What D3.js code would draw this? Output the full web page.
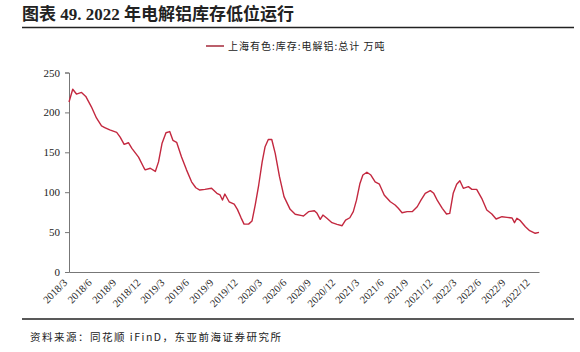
<!DOCTYPE html>
<html>
<head>
<meta charset="utf-8">
<script src="https://cdn.jsdelivr.net/npm/d3@7"></script>
<style>
  body { margin: 0; background: #fff; }
  svg text { fill: #222; }
</style>
</head>
<body>
<div id="chart"></div>
<script>
// weekly inventory, 万吨
const dates = [
  "2018-03-02","2018-03-16","2018-03-30","2018-04-18","2018-05-04","2018-05-25","2018-06-13","2018-07-02",
  "2018-07-14","2018-08-02","2018-08-28","2018-09-10","2018-09-25","2018-10-11","2018-10-24","2018-11-18",
  "2018-12-09","2018-12-13","2019-01-01","2019-01-20","2019-02-01","2019-02-14","2019-03-01","2019-03-15",
  "2019-03-27","2019-04-10","2019-04-28","2019-05-17","2019-06-05","2019-06-21","2019-07-06","2019-07-25",
  "2019-08-19","2019-09-08","2019-09-20","2019-09-29","2019-10-08","2019-10-24","2019-11-12","2019-11-24",
  "2019-12-07","2019-12-19","2020-01-05","2020-01-18","2020-01-30","2020-02-12","2020-02-25","2020-03-07",
  "2020-03-19","2020-04-01","2020-04-14","2020-04-30","2020-05-17","2020-06-09","2020-06-28","2020-07-23",
  "2020-07-29","2020-08-17","2020-09-08","2020-09-18","2020-09-30","2020-10-10","2020-10-25","2020-11-13",
  "2020-12-02","2020-12-21","2021-01-03","2021-01-19","2021-02-01","2021-02-13","2021-02-26","2021-03-09",
  "2021-03-24","2021-04-08","2021-04-24","2021-05-10","2021-05-28","2021-06-01","2021-06-20","2021-07-08",
  "2021-07-20","2021-08-03","2021-08-22","2021-09-10","2021-09-29","2021-10-13","2021-10-29","2021-11-17",
  "2021-11-30","2021-12-14","2022-01-01","2022-01-17","2022-01-29","2022-02-11","2022-02-24","2022-03-08",
  "2022-03-21","2022-04-09","2022-04-22","2022-05-10","2022-05-29","2022-06-17","2022-07-06","2022-07-22",
  "2022-08-13","2022-09-01","2022-09-20","2022-09-29","2022-10-08","2022-10-21","2022-11-09","2022-11-25",
  "2022-12-16","2022-12-30"
];
const values = [
  213, 229, 223, 225, 220, 207, 193, 183,
  181, 178, 175, 169, 160, 162, 155, 144,
  130, 128, 130, 126, 138, 161, 174.5, 176,
  165, 162.5, 144.5, 128, 113, 105.6, 102.7, 103.6,
  105, 98.6, 96.5, 90.2, 97.7, 88, 85, 78.5,
  68.5, 60, 60, 64, 84, 109, 138, 157,
  166, 166, 148.7, 119.4, 94.4, 78.5, 72.3, 70.6,
  70.2, 75.6, 76.8, 73.5, 66, 71.4, 67.3, 61.8,
  59.7, 58, 65, 68, 75.6, 90, 111, 121.5,
  125, 121.5, 113, 110, 96.5, 95, 88, 84,
  79.8, 74.3, 75.6, 75.6, 81.8, 90, 98.6, 102,
  98.6, 89.3, 79.8, 72.7, 73.5, 98.6, 110, 114.4,
  104.9, 107, 103.6, 103.6, 92.3, 77.7, 72.7, 66.4,
  69.3, 68.5, 67.7, 61.8, 67.3, 64.3, 56.8, 51.8,
  48.5, 49.7
];
const yTicks = [0, 50, 100, 150, 200, 250];
const xTickDates = d3.range(0, 20).map(i => new Date(2018, 2 + i * 3, 1));
const seriesName = "上海有色:库存:电解铝:总计 万吨";
const title = "图表 49. 2022 年电解铝库存低位运行";
const source = "资料来源：同花顺 iFinD，东亚前海证券研究所";

const W = 580, H = 352;
const parse = d3.timeParse("%Y-%m-%d");
const data = dates.map((d, i) => ({ date: parse(d), value: values[i] }));

const svg = d3.select("#chart").append("svg")
  .attr("width", W).attr("height", H);

// header
svg.append("text")
  .attr("x", 22).attr("y", 20)
  .style("font-family", "'Liberation Serif', 'Noto Sans CJK SC', serif")
  .style("font-weight", "bold")
  .style("font-size", "17px")
  .text(title);
svg.append("line")
  .attr("x1", 22).attr("x2", 574).attr("y1", 27.5).attr("y2", 27.5)
  .attr("stroke", "#222").attr("stroke-width", 1.6);

const x = d3.scaleTime()
  .domain([parse("2018-03-02"), parse("2022-12-30")])
  .range([69, 539]);
const y = d3.scaleLinear().domain([0, 250]).range([272, 72.5]);

// y axis
const yAxis = svg.append("g")
  .attr("transform", "translate(69,0)")
  .call(d3.axisLeft(y).tickValues(yTicks).tickSize(4).tickPadding(5));
yAxis.select(".domain").attr("stroke", "#777");
yAxis.selectAll(".tick line").attr("stroke", "#777");
yAxis.selectAll("text")
  .style("font-family", "'Liberation Serif', serif")
  .style("font-size", "11px")
  .attr("fill", "#333");

// x axis
const xAxis = svg.append("g")
  .attr("transform", "translate(0,272)")
  .call(d3.axisBottom(x).tickValues(xTickDates).tickSize(0).tickFormat(d3.timeFormat("%Y/%-m")));
xAxis.select(".domain").attr("stroke", "#777");
xAxis.selectAll("text")
  .style("font-family", "'Liberation Serif', serif")
  .style("font-size", "10.5px")
  .attr("fill", "#333")
  .attr("text-anchor", "end")
  .attr("dx", "-0.85em")
  .attr("dy", "0.4em")
  .attr("transform", "rotate(-45)");

// line
const line = d3.line()
  .x(d => x(d.date))
  .y(d => y(d.value));
svg.append("path")
  .datum(data)
  .attr("d", line)
  .attr("fill", "none")
  .attr("stroke", "#c3283f")
  .attr("stroke-width", 1.4)
  .attr("stroke-linejoin", "round");

// legend
const lg = svg.append("g").attr("transform", "translate(206,46)");
lg.append("line").attr("x1", 0).attr("x2", 18)
  .attr("stroke", "#a52a3a").attr("stroke-width", 1.5);
lg.append("text")
  .attr("x", 22).attr("y", 3.5)
  .style("font-family", "'Noto Sans CJK SC', sans-serif")
  .style("font-size", "10px")
  .style("letter-spacing", "1px")
  .attr("fill", "#333")
  .text(seriesName);

// footer
svg.append("line")
  .attr("x1", 22).attr("x2", 574).attr("y1", 319).attr("y2", 319)
  .attr("stroke", "#222").attr("stroke-width", 1.6);
svg.append("text")
  .attr("x", 30).attr("y", 341)
  .style("font-family", "'Noto Sans CJK SC', sans-serif")
  .style("font-size", "10.5px")
  .style("letter-spacing", "1.5px")
  .attr("fill", "#333")
  .text(source);
</script>
</body>
</html>
